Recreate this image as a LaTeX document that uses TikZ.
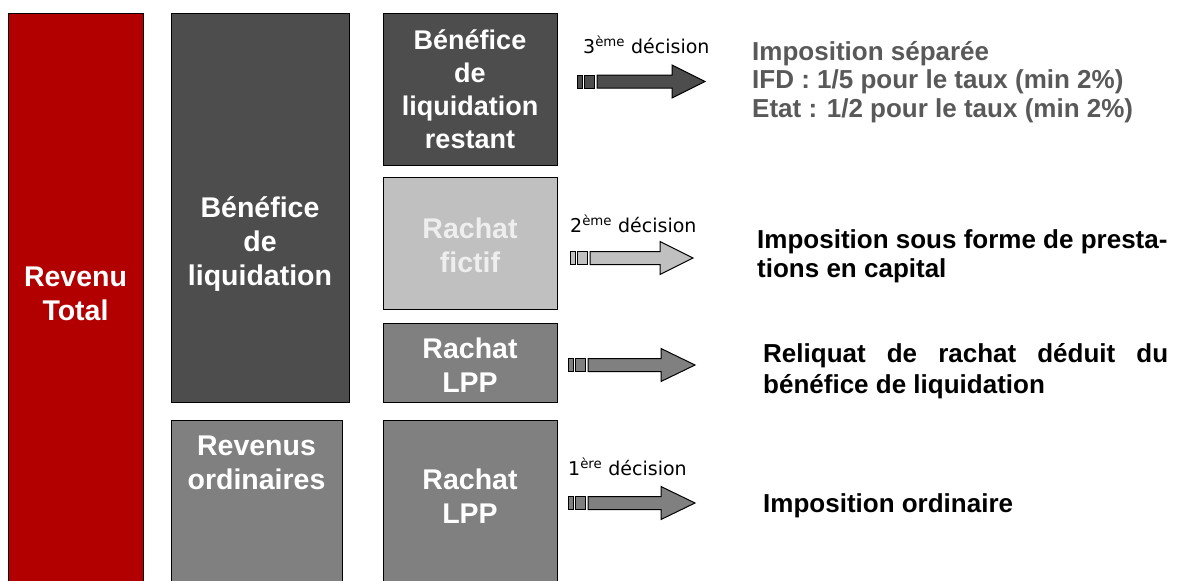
\documentclass[tikz,border=0pt]{standalone}
\usepackage{fontspec}
\setmainfont{Liberation Sans}
\newfontfamily\verd{DejaVu Sans}
\definecolor{bred}{RGB}{178,0,0}
\definecolor{dgray}{RGB}{77,77,77}
\definecolor{mgray}{RGB}{128,128,128}
\definecolor{lgray}{RGB}{192,192,192}
\definecolor{txtgray}{RGB}{89,89,89}
\definecolor{fict}{RGB}{238,238,238}
\newcommand\decarrow[5]{%
  \draw[arr, fill=#5] (#1,#2-6.5) rectangle (#1+5,#2+6.5);
  \draw[arr, fill=#5] (#1+7,#2-6.5) rectangle (#1+17,#2+6.5);
  \draw[arr, fill=#5] (#1+20,#2-6.5) -- (#4,#2-6.5) -- (#4,#2-16.5) -- (#3,#2)
     -- (#4,#2+16.5) -- (#4,#2+6.5) -- (#1+20,#2+6.5) -- cycle;
}
\begin{document}
\begin{tikzpicture}[x=1pt,y=-1pt,
  box/.style={draw=black, line width=1.4pt, inner sep=0pt, anchor=north west},
  btext/.style={text=white, font=\bfseries\fontsize{28.5}{34}\selectfont, align=center, anchor=base, inner sep=0pt},
  rtext/.style={font=\bfseries\fontsize{26}{29}\selectfont, anchor=base west, inner sep=0pt, align=left},
  dtext/.style={font=\verd\fontsize{19}{22}\selectfont, anchor=base west, inner sep=0pt},
  arr/.style={draw=black, line width=1pt}]
\useasboundingbox (0,0) rectangle (1179,581);
\fill[white] (0,0) rectangle (1179,581);
\begin{scope}
\clip (0,0) rectangle (1179,581);
% boxes
\node[box, fill=bred, minimum width=135pt, minimum height=600pt] (rt) at (8,13) {};
\node[box, fill=dgray, minimum width=178pt, minimum height=389pt] (bl) at (171,13) {};
\node[box, fill=mgray, minimum width=171pt, minimum height=200pt] (ro) at (171,420) {};
\node[box, fill=dgray, minimum width=174pt, minimum height=152pt] (blr) at (383,13) {};
\node[box, fill=lgray, minimum width=174pt, minimum height=132pt] (rf) at (383,177) {};
\node[box, fill=mgray, minimum width=174pt, minimum height=79pt] (lpp1) at (383,323) {};
\node[box, fill=mgray, minimum width=174pt, minimum height=200pt] (lpp2) at (383,420) {};
\end{scope}
% box texts (anchor = baseline of last line)
\node[btext] (rt-t) at (75.5,320) {Revenu\\Total};
\node[btext] (bl-t) at (260,285) {Bénéfice\\de\\liquidation};
\node[btext] (ro-t) at (256.5,489) {Revenus\\ordinaires};
\node[btext, font=\bfseries\fontsize{27}{32.7}\selectfont] (blr-t) at (470,148) {Bénéfice\\de\\liquidation\\restant};
\node[btext, text=fict] (rf-t) at (470,272) {Rachat\\fictif};
\node[btext] (lpp1-t) at (470,392) {Rachat\\LPP};
\node[btext] (lpp2-t) at (470,523) {Rachat\\LPP};
% arrows
\decarrow{577}{81.5}{705}{672}{dgray}
\decarrow{570}{258}{693}{660}{lgray}
\decarrow{568}{365}{695}{661}{mgray}
\decarrow{568}{503}{695}{661}{mgray}
% decision labels
\node[dtext] (d3) at (583,53) {3\textsuperscript{ème} décision};
\node[dtext] (d2) at (570,232) {2\textsuperscript{ème} décision};
\node[dtext] (d1) at (568,475) {1\textsuperscript{ère} décision};
% right texts
\node[rtext, text=txtgray, font=\bfseries\fontsize{26}{28.5}\selectfont] (r3) at (752,117) {Imposition séparée\\IFD : 1/5 pour le taux (min 2\%)\\Etat : 1/2 pour le taux (min 2\%)};
\node[rtext] (r2) at (757,277) {Imposition sous forme de presta-\\tions en capital};
\node[rtext, text width=405pt, align=justify, font=\bfseries\fontsize{26}{31}\selectfont] (rl) at (763,362) {Reliquat de rachat déduit du\linebreak bénéfice de liquidation};
\node[rtext] (r1) at (763,512) {Imposition ordinaire};
\end{tikzpicture}
\end{document}
